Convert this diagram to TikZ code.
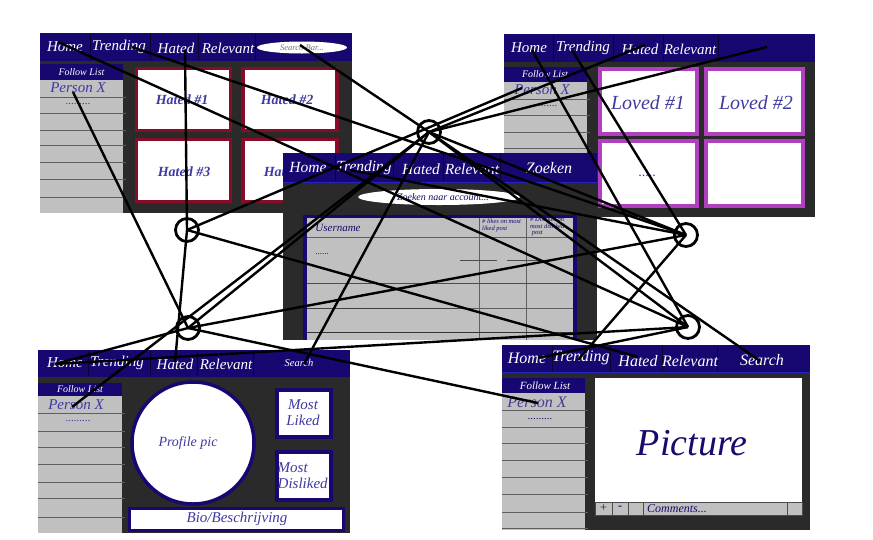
\documentclass[tikz,border=0pt]{standalone}
\usepackage{fontspec}
\setmainfont{Liberation Serif}
\newcommand\myfs[1]{\fontsize{#1}{#1}\selectfont}
\definecolor{navy}{RGB}{22,8,112}
\definecolor{panelbg}{RGB}{42,42,42}
\definecolor{listgray}{RGB}{192,192,192}
\definecolor{sepgray}{RGB}{95,95,95}
\definecolor{inktxt}{RGB}{62,58,160}
\definecolor{maroonb}{RGB}{135,12,40}
\definecolor{magentab}{RGB}{176,64,192}
\definecolor{navline}{RGB}{35,35,190}
\definecolor{deepink}{RGB}{26,10,110}
\begin{document}
\begin{tikzpicture}[x=1pt,y=-1pt,
  navtxt/.style={inner sep=0pt,text=white,font=\itshape\myfs{15}},
  navsep/.style={draw=black!60!navy,line width=0.6pt},
  fltxt/.style={inner sep=0pt,text=white,font=\itshape\myfs{10}},
  pers/.style={inner sep=0pt,text=inktxt,font=\itshape\myfs{15}},
  dotstxt/.style={inner sep=0pt,text=inktxt,font=\myfs{11}},
  sep/.style={draw=sepgray,line width=1pt},
  hatedcard/.style={fill=white,draw=maroonb,line width=3.5pt},
  lovedcard/.style={fill=white,draw=magentab,line width=4pt},
  cardtxt/.style={inner sep=0pt,text=inktxt,font=\itshape\bfseries\myfs{14}},
  navybox/.style={fill=white,draw=navy,line width=3.5pt},
  softtxt/.style={inner sep=0pt,text=inktxt,font=\itshape\myfs{15}},
  hub/.style={circle,draw=black,line width=2.8pt,minimum size=23pt,inner sep=0pt},
  link/.style={draw=black,line width=2.4pt},
]
\fill[white] (0,0) rectangle (873,539);
\useasboundingbox (0,0) rectangle (873,539);

% ================= P1 : Hated page =================
\fill[panelbg] (40,33) rectangle (352,213);
\fill[navy] (40,33) rectangle (352,61);
\foreach \xx in {90,150,198,255} \draw[navsep] (\xx,34) -- (\xx,60);
\node[navtxt] (p1n1) at (65,47) {Home};
\node[navtxt] (p1n2) at (119,47) {Trending};
\node[navtxt] (p1n3) at (176,48) {Hated};
\node[navtxt] (p1n4) at (228,48) {Relevant};
\fill[white] (302,47.5) ellipse [x radius=45, y radius=6];
\node[inner sep=0pt,text=black!55,font=\itshape\myfs{8.5}] (p1sb) at (302,47.5) {Search Bar...};
\fill[navy] (40,64) rectangle (123,80);
\node[fltxt] (p1fl) at (81.5,72) {Follow List};
\fill[listgray] (40,80) rectangle (123,213);
\foreach \yy in {97,113,130,145,162,179,197} \draw[sep] (40,\yy) -- (126,\yy);
\node[pers] (p1px) at (78,88) {Person X};
\node[dotstxt] (p1dt) at (78,104) {.........};
\draw[hatedcard] (136.5,68.5) rectangle (230.5,130.5);
\draw[hatedcard] (243,68.5) rectangle (337,130.5);
\draw[hatedcard] (136.5,139.5) rectangle (230.5,201.5);
\draw[hatedcard] (243,139.5) rectangle (337,201.5);
\node[cardtxt] (p1c1) at (182,100) {Hated \#1};
\node[cardtxt] (p1c2) at (287,100) {Hated \#2};
\node[cardtxt] (p1c3) at (184,172) {Hated \#3};
\node[cardtxt] (p1c4) at (290,172) {Hated \#4};

% ================= P2 : Loved page =================
\fill[panelbg] (504,34) rectangle (815,217);
\fill[navy] (504,34) rectangle (815,62);
\foreach \xx in {553,613,663,718} \draw[navsep] (\xx,35) -- (\xx,61);
\node[navtxt] (p2n1) at (529,48) {Home};
\node[navtxt] (p2n2) at (583,48) {Trending};
\node[navtxt] (p2n3) at (640,49) {Hated};
\node[navtxt] (p2n4) at (690,49) {Relevant};
\fill[navy] (504,67) rectangle (587,82);
\node[fltxt] (p2fl) at (545,74.5) {Follow List};
\fill[listgray] (504,82) rectangle (587,217);
\foreach \yy in {99,115,132,148,165,182,199} \draw[sep] (504,\yy) -- (590,\yy);
\node[pers] (p2px) at (542,90) {Person X};
\node[dotstxt] (p2dt) at (545,106) {.........};
\draw[lovedcard] (600,69) rectangle (697,134);
\draw[lovedcard] (706,69) rectangle (803,134);
\draw[lovedcard] (600,141) rectangle (697,206);
\draw[lovedcard] (706,141) rectangle (803,206);
\node[inner sep=0pt,text=inktxt,font=\itshape\myfs{20}] (p2c1) at (648,103) {Loved \#1};
\node[inner sep=0pt,text=inktxt,font=\itshape\myfs{20}] (p2c2) at (756,103) {Loved \#2};
\node[inner sep=0pt,text=inktxt,font=\myfs{14}] (p2c3) at (647,176) {.....};

% ================= P3 : Search page =================
\fill[panelbg] (283,153) rectangle (597,340);
\fill[navy] (283,153) rectangle (597,183);
\draw[navline,line width=1.2pt] (283,182.5) -- (597,182.5);
\foreach \xx in {335,393,443,500} \draw[navsep] (\xx,154) -- (\xx,181);
\node[navtxt,font=\itshape\myfs{15.5}] (p3n1) at (308,167) {Home};
\node[navtxt,font=\itshape\myfs{15.5}] (p3n2) at (364,168) {Trending};
\node[navtxt,font=\itshape\myfs{15.5}] (p3n3) at (421,169) {Hated};
\node[navtxt,font=\itshape\myfs{15.5}] (p3n4) at (472,169) {Relevant};
\node[navtxt,font=\itshape\myfs{16}] (p3n5) at (549,168) {Zoeken};
\fill[white] (439,197) ellipse [x radius=81, y radius=8];
\node[inner sep=0pt,text=deepink,font=\itshape\myfs{10}] (p3sb) at (443,197) {Zoeken naar account...};
\fill[navy] (303,215) rectangle (577,340);
\fill[listgray] (307,218) rectangle (573,340);
\draw[sepgray,line width=0.7pt] (479,218) -- (479,340);
\draw[sepgray,line width=0.7pt] (526,218) -- (526,340);
\draw[sepgray,line width=0.8pt] (307,237) -- (573,237);
\draw[black!70,line width=0.8pt] (460,260) -- (497,260);
\draw[black!70,line width=0.8pt] (507,260) -- (543,260);
\draw[black!70,line width=0.8pt] (307,283) -- (573,283);
\draw[black!75,line width=0.8pt] (307,308) -- (460,308);
\draw[sepgray,line width=0.6pt] (460,308) -- (573,308);
\draw[black!80,line width=0.8pt] (307,332) -- (573,332);
\node[inner sep=0pt,text=deepink,font=\itshape\myfs{11}] (p3un) at (338,228) {Username};
\node[inner sep=0pt,text=deepink,font=\myfs{9}] (p3dt) at (322,254) {......};
\node[inner sep=0pt,anchor=north west,align=left,text=deepink,font=\itshape\myfs{6.5}] (p3lk) at (482,219) {\# likes on most\\liked post};
\node[inner sep=0pt,anchor=north west,align=left,text=deepink,font=\itshape\myfs{6.5}] (p3dl) at (530,217) {\# Dislikes on\\most disliked\\\ post};

% ================= P4 : Profile page =================
\fill[panelbg] (38,350) rectangle (350,533);
\fill[navy] (38,350) rectangle (350,377);
\foreach \xx in {88,150,197,253} \draw[navsep] (\xx,351) -- (\xx,376);
\node[navtxt] (p4n1) at (65,363) {Home};
\node[navtxt] (p4n2) at (117,363) {Trending};
\node[navtxt] (p4n3) at (175,364) {Hated};
\node[navtxt] (p4n4) at (226,364) {Relevant};
\node[navtxt,font=\itshape\myfs{10.5}] (p4n5) at (299,363) {Search};
\fill[navy] (38,383) rectangle (122,396);
\node[fltxt] (p4fl) at (80,389.5) {Follow List};
\fill[listgray] (38,396) rectangle (122,533);
\foreach \yy in {413,431,447,464,482,498,517} \draw[sep] (38,\yy) -- (125,\yy);
\node[pers] (p4px) at (76,405) {Person X};
\node[dotstxt] (p4dt) at (78,421) {.........};
\draw[navybox] (193,443) circle [radius=61];
\node[softtxt,font=\itshape\myfs{14}] (p4pp) at (188,443) {Profile pic};
\draw[navybox] (277,390) rectangle (331,437);
\node[softtxt,align=center] (p4ml) at (303,413) {Most\\[1pt]Liked};
\draw[navybox] (277,452) rectangle (331,500);
\node[softtxt,align=left,anchor=west] (p4md) at (277.5,476) {Most\\[1pt]Disliked};
\draw[navybox,line width=3pt] (129,508) rectangle (343,530);
\node[softtxt] (p4bio) at (237,519) {Bio/Beschrijving};

% ================= P5 : Picture page =================
\fill[panelbg] (502,345) rectangle (810,530);
\fill[navy] (502,345) rectangle (810,373);
\draw[navline,line width=1.2pt] (502,372.5) -- (810,372.5);
\foreach \xx in {552,610,662,717} \draw[navsep] (\xx,346) -- (\xx,371);
\node[navtxt,font=\itshape\myfs{16}] (p5n1) at (527,358) {Home};
\node[navtxt,font=\itshape\myfs{16}] (p5n2) at (581,358) {Trending};
\node[navtxt,font=\itshape\myfs{16}] (p5n3) at (638,361) {Hated};
\node[navtxt,font=\itshape\myfs{16}] (p5n4) at (690,361) {Relevant};
\node[navtxt,font=\itshape\myfs{16}] (p5n5) at (762,360) {Search};
\fill[navy] (502,378) rectangle (585,393);
\node[fltxt,font=\itshape\myfs{11}] (p5fl) at (545,386) {Follow List};
\fill[listgray] (502,393) rectangle (585,530);
\foreach \yy in {410,427,443,460,477,494,512,528} \draw[sep] (502,\yy) -- (588,\yy);
\node[pers,font=\itshape\myfs{16},text=deepink!80] (p5px) at (537,402) {Person X};
\node[dotstxt,text=deepink] (p5dt) at (540,419) {.........};
\fill[white] (595,378) rectangle (802,502);
\node[inner sep=0pt,text=deepink,font=\itshape\myfs{38}] (p5pic) at (692,443) {Picture};
\draw[fill=listgray,draw=black!70,line width=0.8pt] (595,502) rectangle (802,515);
\foreach \xx in {612,628,643,787} \draw[black!70,line width=0.8pt] (\xx,502) -- (\xx,515);
\node[inner sep=0pt,text=deepink,font=\myfs{12}] (p5pl) at (603.5,508) {+};
\node[inner sep=0pt,text=deepink,font=\bfseries\myfs{12}] (p5mi) at (620,508) {-};
\node[inner sep=0pt,anchor=west,text=deepink,font=\itshape\myfs{12}] (p5cm) at (647,508.5) {Comments...};

% ================= connector end points =================
\coordinate (e1home) at (58,42);
\coordinate (e1trend) at (132,47);
\coordinate (e1hated) at (185,50);
\coordinate (e1search) at (300,45);
\coordinate (e1person) at (73,92);
\coordinate (e2home) at (532,50);
\coordinate (e2trend) at (572,50);
\coordinate (e2hated) at (645,45);
\coordinate (e2right) at (767,47);
\coordinate (e2person) at (522,88);
\coordinate (e3trend) at (350,170);
\coordinate (e4home) at (55,364);
\coordinate (e4hated) at (175,362);
\coordinate (e4search) at (304,364);
\coordinate (e4person) at (72,407);
\coordinate (e5home) at (538,358);
\coordinate (e5trend) at (578,360);
\coordinate (e5hated) at (638,357);
\coordinate (e5search) at (760,361);
\coordinate (e5person) at (538,403);

\node[hub] (c1) at (429,132) {};
\node[hub] (c2) at (187,230) {};
\node[hub] (c3) at (188,328) {};
\node[hub] (c4) at (686,235) {};
\node[hub] (c5) at (688,327) {};

% ================= connectors =================
\draw[link] (e1home) -- (c5.center);
\draw[link] (e1trend) -- (c4.center);
\draw[link] (e1hated) -- (c2.center) -- (e4hated);
\draw[link] (e1search) -- (c1.center) -- (e5search);
\draw[link] (e1person) -- (c3.center);
\draw[link] (e2home) -- (c5.center);
\draw[link] (e2trend) -- (c4.center);
\draw[link] (e2hated) -- (c1.center);
\draw[link] (e2right) -- (c1.center);
\draw[link] (e2person) -- (c2.center);
\draw[link] (c2.center) -- (e5hated);
\draw[link] (c1.center) -- (e4search);
\draw[link] (c1.center) -- (c3.center);
\draw[link] (c1.center) -- (e4person);
\draw[link] (c1.center) -- (c4.center);
\draw[link] (c1.center) -- (c5.center);
\draw[link] (c3.center) -- (c4.center);
\draw[link] (e4home) -- (c3.center);
\draw[link] (c3.center) -- (e5person);
\draw[link] (e4home) -- (c5.center);
\draw[link] (e5home) -- (c5.center);
\draw[link] (c4.center) -- (e5trend);
\draw[link] (e3trend) -- (c4.center);
\end{tikzpicture}
\end{document}
